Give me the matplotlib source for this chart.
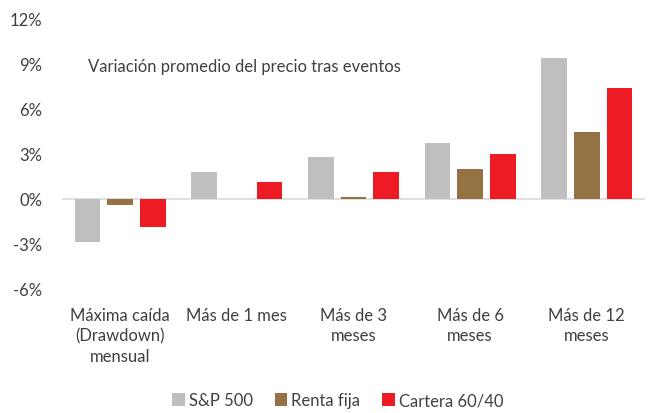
import numpy as np
import matplotlib
matplotlib.use("Agg")
import matplotlib.pyplot as plt

# --- DATA ---
categories = ["Máxima caída\n(Drawdown)\nmensual", "Más de 1 mes", "Más de 3\nmeses",
              "Más de 6\nmeses", "Más de 12\nmeses"]
sp500 = [-2.9, 1.8, 2.8, 3.7, 9.35]
renta_fija = [-0.45, 0.0, 0.1, 1.95, 4.4]
cartera = [-1.9, 1.1, 1.75, 2.95, 7.35]
series_names = ["S&P 500", "Renta fija", "Cartera 60/40"]
y_ticks = [-6, -3, 0, 3, 6, 9, 12]

colors = ["#BFBFBF", "#957244", "#ED1C24"]
text_color = "#404040"

plt.rcParams["font.family"] = ["Lato", "DejaVu Sans"]

fig = plt.figure(figsize=(6.51, 4.14), dpi=100)
ax = fig.add_axes([62 / 651, 1 - 290 / 414, (645 - 62) / 651, (290 - 19) / 414])

x = np.arange(len(categories))
width = 0.22
offset = 0.28
for i, (vals, name) in enumerate(zip([sp500, renta_fija, cartera], series_names)):
    ax.bar(x + (i - 1) * offset, vals, width, color=colors[i], label=name, zorder=2)

ax.set_xlim(-0.5, len(categories) - 0.5)
ax.set_ylim(-6, 12)
ax.set_yticks(y_ticks)
ax.set_yticklabels([f"{t}%" for t in y_ticks])
ax.axhline(0, color="#D9D9D9", linewidth=1.2, zorder=1)

for s in ax.spines.values():
    s.set_visible(False)
ax.tick_params(axis="y", length=0, pad=14, labelsize=12, labelcolor=text_color)
ax.set_xticks(x)
ax.set_xticklabels(categories, va="top", linespacing=1.32)
ax.tick_params(axis="x", length=0, pad=13, labelsize=12, labelcolor=text_color)

ax.text(-0.277, 8.8, "Variación promedio del precio tras eventos", fontsize=12,
        color=text_color, va="center")

fig.legend(loc="lower center", bbox_to_anchor=(0.519, -0.025), ncol=3, frameon=False,
           fontsize=12, handlelength=0.75, handleheight=0.75, handletextpad=0.25,
           columnspacing=1.3, labelcolor=text_color)

fig.savefig("out.png", dpi=100)
